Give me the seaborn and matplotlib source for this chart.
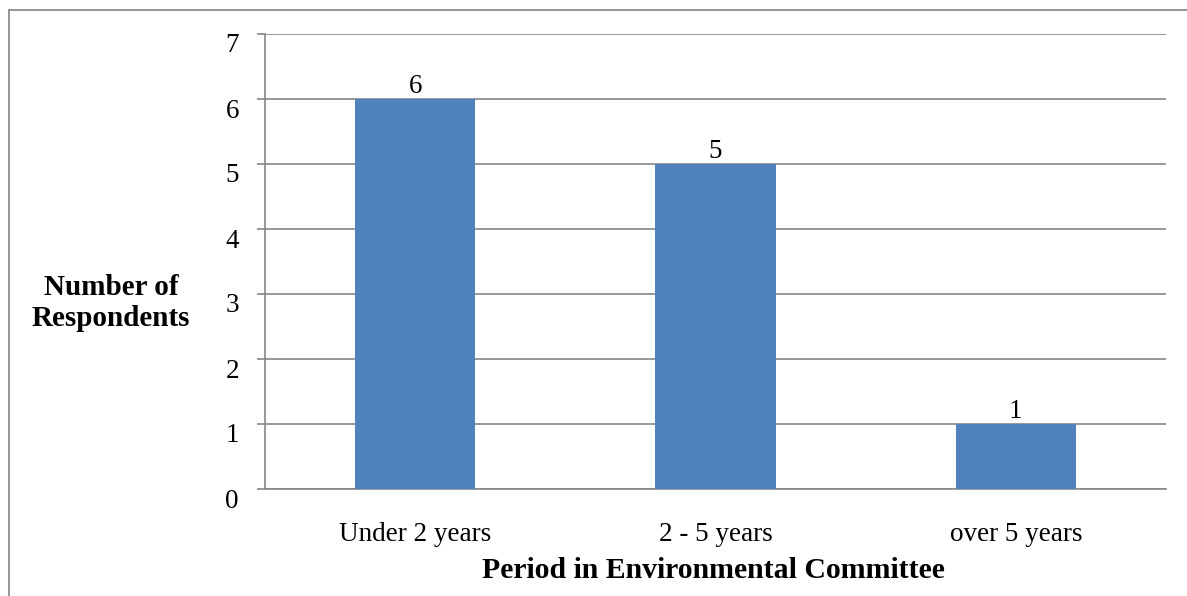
import matplotlib
matplotlib.use("Agg")
import matplotlib.pyplot as plt
from matplotlib.lines import Line2D
from matplotlib.transforms import blended_transform_factory, offset_copy
import seaborn as sns
import pandas as pd

categories = ["Under 2 years", "2 - 5 years", "over 5 years"]
respondents = [6, 5, 1]
y_ticks = [0, 1, 2, 3, 4, 5, 6, 7]

sns.set_theme(style="white")
plt.rcParams["font.family"] = ["Liberation Serif", "DejaVu Serif"]
plt.rcParams["text.color"] = "black"

W, H = 1187, 596
fig = plt.figure(figsize=(W / 100, H / 100), dpi=100)
ax = fig.add_axes([265 / W, 1 - 489 / H, (1166 - 265) / W, (489 - 34) / H])

df = pd.DataFrame({"period": categories, "count": respondents})
sns.barplot(data=df, x="period", y="count", color="#4f81bd", saturation=1,
            width=0.4, linewidth=0, ax=ax, zorder=3)

grid_c = "#868686"
lw = 1.2
ax.set_ylim(0, 7)
ax.set_xlim(-0.5, len(categories) - 0.5)
ax.set_yticks(y_ticks)
ax.set_yticklabels([])
ax.yaxis.grid(True, color=grid_c, linewidth=lw, zorder=0)
ax.set_axisbelow(True)
for side in ["top", "right"]:
    ax.spines[side].set_visible(False)
for side in ["left", "bottom"]:
    ax.spines[side].set_color(grid_c)
    ax.spines[side].set_linewidth(lw)
ax.tick_params(axis="y", which="both", left=True, length=5.8, width=lw,
               color=grid_c)
ax.tick_params(axis="x", bottom=False, labelsize=19.5, pad=17.5,
               labelcolor="black")

# y tick labels sit just below their tick marks
ylab_tr = offset_copy(blended_transform_factory(ax.transAxes, ax.transData),
                      fig=fig, x=-26, y=-18.5, units="dots")
for t in y_ticks:
    ax.text(0, t, str(t), transform=ylab_tr, ha="right", va="baseline",
            fontsize=19.5, color="black")

for i, v in enumerate(respondents):
    ax.text(i, v, str(v), ha="center", va="bottom", fontsize=19.5,
            color="black")

ax.set_xlabel("")
ax.set_ylabel("")
fig.text(713 / W, 1 - 570 / H, "Period in Environmental Committee",
         ha="center", va="center", fontsize=21.4, fontweight="bold")
fig.text(111 / W, 1 - 303 / H, "Number of\nRespondents", ha="center",
         va="center", fontsize=21, fontweight="bold", linespacing=1.15)

# outer chart frame (top and left edges visible)
frame_c = "#8c8c8c"
fig.add_artist(Line2D([9.5 / W, 1.0], [1 - 9.5 / H, 1 - 9.5 / H],
                      color=frame_c, linewidth=1.3, transform=fig.transFigure))
fig.add_artist(Line2D([9.5 / W, 9.5 / W], [0, 1 - 9.5 / H],
                      color=frame_c, linewidth=1.3, transform=fig.transFigure))

fig.savefig("out.png", dpi=100)
